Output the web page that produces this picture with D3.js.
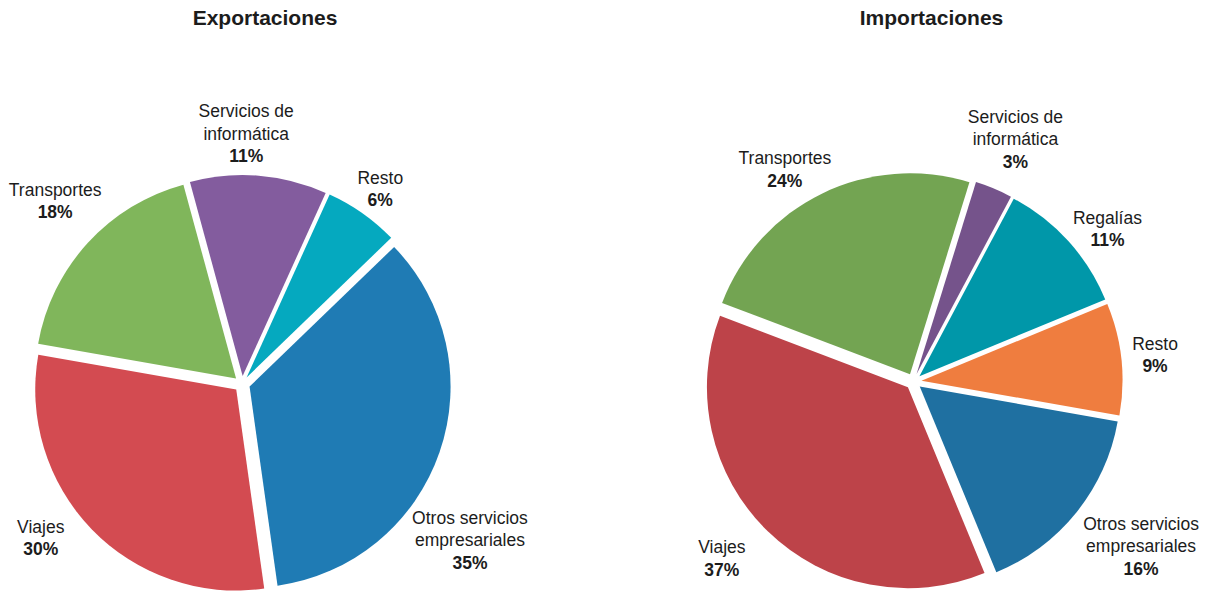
<!DOCTYPE html>
<html><head><meta charset="utf-8">
<script src="https://cdn.jsdelivr.net/npm/d3@7"></script>
<style>
body{margin:0;background:#fff}
text{font-family:"Liberation Sans",Arial,Helvetica,sans-serif;fill:#1c1c1c}
</style>
</head><body>
<svg id="chart" width="1208" height="591"></svg>
<script>
// ---- data ----
const exportCategories = ["Otros servicios empresariales", "Viajes", "Transportes", "Servicios de informática", "Resto"];
const exportValues = [35, 30, 18, 11, 6];
const exportColors = ["#1f7bb4", "#d34b51", "#80b65b", "#835c9e", "#05a9bf"];

const importCategories = ["Otros servicios empresariales", "Viajes", "Transportes", "Servicios de informática", "Regalías", "Resto"];
const importValues = [16, 37, 24, 3, 11, 9];
const importColors = ["#1f70a1", "#bd4349", "#73a452", "#75538b", "#0097a9", "#ef7d3f"];

const titles = ["Exportaciones", "Importaciones"];

// ---- layout ----
const R = 201, explode = 8, lineH = 22.5, wrapWidth = 125;
const panels = [
  {title: titles[0], cats: exportCategories, vals: exportValues, colors: exportColors,
   cx: 242, cy: 384, startDeg: 46, titleDx: 23,
   labelAngle: [18.4, 5.9, 4.7, -3.7, 0], labelGap: [28, 31, 27, 17, 16]},
  {title: titles[1], cats: importCategories, vals: importValues, colors: importColors,
   cx: 913.5, cy: 381.5, startDeg: 100, titleDx: 18,
   labelAngle: [0, 2.4, -2.8, -0.9, 2.6, 0.2], labelGap: [33, 39, 19.5, 27, 16, 19]}
];

const svg = d3.select("#chart");
const toRad = Math.PI / 180;

function wrap(textSel, str) {
  const words = str.split(" ");
  const lines = [];
  let cur = "";
  const tmp = textSel.append("tspan");
  words.forEach(w => {
    const test = cur ? cur + " " + w : w;
    tmp.text(test);
    if (tmp.node().getComputedTextLength() > wrapWidth && cur) {
      lines.push(cur); cur = w;
    } else cur = test;
  });
  if (cur) lines.push(cur);
  tmp.remove();
  return lines;
}

panels.forEach(p => {
  const g = svg.append("g");
  g.append("text")
    .attr("x", p.cx + p.titleDx).attr("y", 25)
    .attr("text-anchor", "middle")
    .style("font-weight", "bold").style("font-size", "21px")
    .text(p.title);

  const pie = d3.pie().sort(null).value(d => d)
    .startAngle(p.startDeg * toRad).endAngle(p.startDeg * toRad + 2 * Math.PI);
  const arcs = pie(p.vals);
  const arc = d3.arc().innerRadius(0).outerRadius(R);

  const pg = g.append("g").attr("transform", `translate(${p.cx},${p.cy})`);
  pg.selectAll("path").data(arcs).join("path")
    .attr("d", arc)
    .attr("fill", (d, i) => p.colors[i])
    .attr("transform", d => {
      const m = (d.startAngle + d.endAngle) / 2;
      return `translate(${Math.sin(m) * explode},${-Math.cos(m) * explode})`;
    });

  arcs.forEach((d, i) => {
    const t = pg.append("text").attr("text-anchor", "middle").style("font-size", "17.5px");
    const lines = wrap(t, p.cats[i]);
    lines.forEach((ln, k) => {
      t.append("tspan").attr("x", 0).attr("dy", k === 0 ? 0 : lineH).text(ln);
    });
    t.append("tspan").attr("x", 0).attr("dy", lineH).style("font-weight", "bold")
      .text(p.vals[i] + "%");
    const w = t.node().getBBox().width;
    const n = lines.length + 1;
    const h = (n - 1) * lineH + 17;
    const a = (d.startAngle + d.endAngle) / 2 + p.labelAngle[i] * toRad;
    const ux = Math.sin(a), uy = -Math.cos(a);
    const D = R + p.labelGap[i];
    const bx = D * ux + ux * w / 2;
    const by = D * uy + uy * h / 2;
    const top = by - h / 2;
    t.attr("transform", `translate(${bx},${top + 13})`);
    t.selectAll("tspan").attr("x", 0);
  });
});
</script>
</body></html>
